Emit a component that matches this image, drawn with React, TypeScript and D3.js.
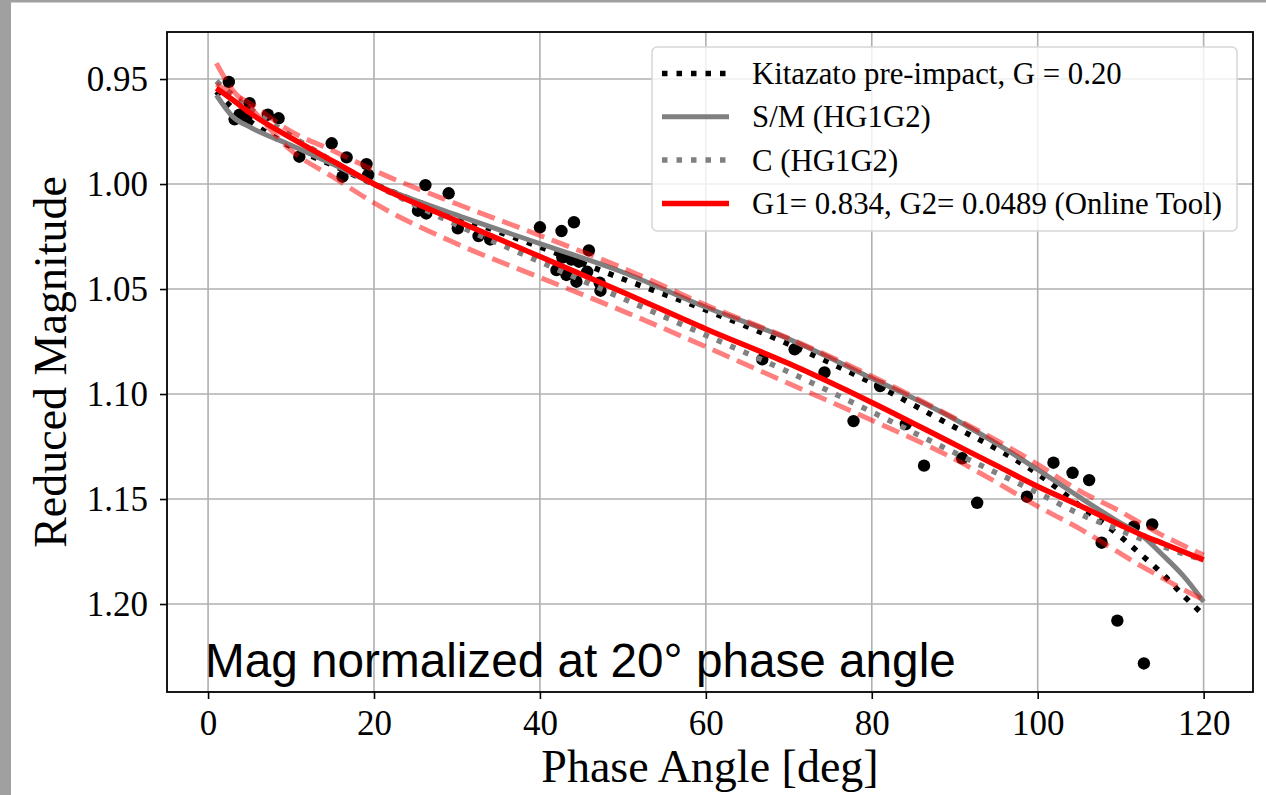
import React, { useEffect, useRef } from "react";
import * as d3 from "d3";

// ---- axis ticks ----
const xTicks = [0, 20, 40, 60, 80, 100, 120];
const yTicks = [0.95, 1.0, 1.05, 1.1, 1.15, 1.2];

// ---- observed points ----
const obsPhase = [
  2.5, 5.0, 3.8, 3.2, 4.6, 7.2, 8.5, 11.0, 14.9, 16.7, 16.2, 19.1, 19.3,
  26.2, 29.0, 25.3, 26.3, 30.1, 32.6, 34.0,
  40.0, 42.6, 44.1, 45.9, 42.0, 42.7, 43.2, 44.4, 43.8, 44.7, 45.7, 47.2, 47.3,
  66.8, 70.7, 74.3, 81.0, 77.8, 84.1, 86.3, 90.9, 92.7,
  98.7, 101.9, 104.2, 106.2, 107.7, 111.6, 113.8, 109.6, 112.8,
];
const obsMag = [
  0.9514, 0.9615, 0.967, 0.9692, 0.9687, 0.967, 0.9687, 0.987, 0.9806, 0.9873, 0.9965, 0.9905, 0.9957,
  1.0005, 1.0044, 1.0127, 1.014, 1.0211, 1.0248, 1.0264,
  1.0206, 1.0224, 1.0182, 1.0316, 1.041, 1.035, 1.0433, 1.0465, 1.036, 1.037, 1.0418, 1.047, 1.0508,
  1.0835, 1.0787, 1.0897, 1.0962, 1.1129, 1.1143, 1.1341, 1.1306, 1.1518,
  1.1489, 1.1327, 1.1375, 1.141, 1.1708, 1.1632, 1.1621, 1.2079, 1.2283,
];

// ---- model curves (sampled on a common phase grid) ----
const curvePhase = [1, 3, 5, 10, 15, 20, 30, 40, 50, 60, 70, 80, 90, 95, 100, 105, 110, 112.5, 115, 117.5, 120];
const kitazatoMag = [0.956, 0.964, 0.97, 0.9822, 0.991, 1.0, 1.0155, 1.03, 1.0452, 1.06, 1.0763, 1.0947, 1.1158, 1.126, 1.138, 1.153, 1.168, 1.1766, 1.1855, 1.1957, 1.2053];
const smMag = [0.9576, 0.968, 0.9728, 0.9815, 0.9905, 1.0, 1.0148, 1.0284, 1.042, 1.0587, 1.0738, 1.0925, 1.112, 1.1235, 1.136, 1.149, 1.1615, 1.1673, 1.1764, 1.1864, 1.1989];
const cMag = [0.951, 0.958, 0.964, 0.977, 0.989, 1.0, 1.0195, 1.037, 1.0545, 1.072, 1.0895, 1.1085, 1.128, 1.1375, 1.147, 1.157, 1.165, 1.169, 1.1725, 1.176, 1.179];
const fitMag = [0.9544, 0.96, 0.966, 0.978, 0.989, 1.0, 1.0176, 1.0345, 1.0515, 1.069, 1.0855, 1.104, 1.124, 1.134, 1.144, 1.153, 1.1625, 1.167, 1.171, 1.175, 1.179];
const fitUpperMag = [0.9525, 0.957, 0.9615, 0.975, 0.984, 0.9935, 1.0095, 1.0245, 1.04, 1.0576, 1.0735, 1.0915, 1.1115, 1.122, 1.1335, 1.146, 1.156, 1.1617, 1.1672, 1.172, 1.1767];
const fitLowerMag = [0.9425, 0.9555, 0.9632, 0.984, 0.9965, 1.009, 1.0285, 1.0445, 1.0605, 1.0775, 1.095, 1.1125, 1.131, 1.142, 1.1535, 1.164, 1.176, 1.182, 1.1875, 1.193, 1.198];

const legendLabels = [
  "Kitazato pre-impact, G = 0.20",
  "S/M (HG1G2)",
  "C (HG1G2)",
  "G1= 0.834, G2= 0.0489 (Online Tool)",
];

const W = 1266;
const H = 795;
const L = 167, R = 1253, T = 32, B = 692;
const SERIF = "'Liberation Serif', 'Times New Roman', serif";
const SANS = "'Liberation Sans', Arial, sans-serif";

export default function App() {
  const ref = useRef<SVGSVGElement | null>(null);

  useEffect(() => {
    const svg = d3.select(ref.current);
    svg.selectAll("*").remove();

    const x = d3.scaleLinear().domain([-4.95, 125.95]).range([L, R]);
    const y = d3.scaleLinear().domain([0.9276, 1.2419]).range([T, B]);

    // page background
    svg.append("rect").attr("x", 0).attr("y", 0).attr("width", W).attr("height", H).attr("fill", "#ffffff");
    svg.append("rect").attr("x", 0).attr("y", 0).attr("width", W).attr("height", 2.5).attr("fill", "#a0a0a0");
    svg.append("rect").attr("x", 0).attr("y", 0).attr("width", 11).attr("height", H).attr("fill", "#a0a0a0");

    const defs = svg.append("defs");
    defs.append("clipPath").attr("id", "plotclip")
      .append("rect").attr("x", L).attr("y", T).attr("width", R - L).attr("height", B - T);

    // grid
    const grid = svg.append("g");
    xTicks.forEach((t) => {
      grid.append("line").attr("x1", x(t)).attr("x2", x(t)).attr("y1", T).attr("y2", B)
        .attr("stroke", "#b0b0b0").attr("stroke-width", 1.6);
    });
    yTicks.forEach((t) => {
      grid.append("line").attr("x1", L).attr("x2", R).attr("y1", y(t)).attr("y2", y(t))
        .attr("stroke", "#b0b0b0").attr("stroke-width", 1.6);
    });

    const plot = svg.append("g").attr("clip-path", "url(#plotclip)");

    // points
    plot.append("g").selectAll("circle")
      .data(obsPhase.map((p, i) => [p, obsMag[i]]))
      .join("circle")
      .attr("cx", (d) => x(d[0]))
      .attr("cy", (d) => y(d[1]))
      .attr("r", 6.2)
      .attr("fill", "#000000");

    const line = (vals: number[]) =>
      d3.line<number>()
        .x((_, i) => x(curvePhase[i]))
        .y((d) => y(d))
        .curve(d3.curveMonotoneX)(vals) as string;

    const drawCurve = (vals: number[], color: string, width: number, dash: string | null, opacity = 1) => {
      const p = plot.append("path").attr("d", line(vals)).attr("fill", "none")
        .attr("stroke", color).attr("stroke-width", width).attr("stroke-opacity", opacity)
        .attr("stroke-linecap", "butt").attr("stroke-linejoin", "round");
      if (dash) p.attr("stroke-dasharray", dash);
    };

    drawCurve(kitazatoMag, "#000000", 5.5, "5.5 9");
    drawCurve(smMag, "#808080", 5, null);
    drawCurve(cMag, "#808080", 5.5, "5.5 9");
    drawCurve(fitMag, "#ff0000", 5.5, null);
    drawCurve(fitUpperMag, "#ff0000", 5, "18.5 8", 0.5);
    drawCurve(fitLowerMag, "#ff0000", 5, "18.5 8", 0.5);

    // spines
    svg.append("rect").attr("x", L).attr("y", T).attr("width", R - L).attr("height", B - T)
      .attr("fill", "none").attr("stroke", "#000000").attr("stroke-width", 1.8);

    // x axis
    const xAxis = svg.append("g").attr("transform", `translate(0,${B})`)
      .call(d3.axisBottom(x).tickValues(xTicks).tickSize(7).tickPadding(10).tickFormat(d3.format("d")));
    xAxis.select(".domain").remove();
    xAxis.selectAll(".tick line").attr("stroke", "#000").attr("stroke-width", 1.6);
    xAxis.selectAll(".tick text").attr("font-family", SERIF).attr("font-size", 35).attr("fill", "#000")
      .attr("dy", "0").attr("y", 43);

    // y axis
    const yAxis = svg.append("g").attr("transform", `translate(${L},0)`)
      .call(d3.axisLeft(y).tickValues(yTicks).tickSize(7).tickPadding(12).tickFormat(d3.format(".2f")));
    yAxis.select(".domain").remove();
    yAxis.selectAll(".tick line").attr("stroke", "#000").attr("stroke-width", 1.6);
    yAxis.selectAll(".tick text").attr("font-family", SERIF).attr("font-size", 35).attr("fill", "#000")
      .attr("dy", "0.34em").attr("x", -19);

    // axis labels
    svg.append("text").attr("x", (L + R) / 2).attr("y", 782).attr("text-anchor", "middle")
      .attr("font-family", SERIF).attr("font-size", 46).attr("fill", "#000").text("Phase Angle [deg]");
    svg.append("text").attr("transform", `translate(66,${(T + B) / 2}) rotate(-90)`).attr("text-anchor", "middle")
      .attr("font-family", SERIF).attr("font-size", 46).attr("fill", "#000").text("Reduced Magnitude");

    // annotation
    svg.append("text").attr("x", 205).attr("y", 677).attr("font-family", SANS).attr("font-size", 47.7)
      .attr("fill", "#000").text("Mag normalized at 20\u00B0 phase angle");

    // legend
    const lg = svg.append("g");
    lg.append("rect").attr("x", 652).attr("y", 47).attr("width", 585).attr("height", 184).attr("rx", 5)
      .attr("fill", "#ffffff").attr("fill-opacity", 0.8).attr("stroke", "#d6d6d6").attr("stroke-width", 1.5);
    const styles = [
      { c: "#000000", w: 5.5, d: "5.5 9" },
      { c: "#808080", w: 5, d: null },
      { c: "#808080", w: 5.5, d: "5.5 9" },
      { c: "#ff0000", w: 5.5, d: null },
    ];
    legendLabels.forEach((lab, i) => {
      const cy = 73.5 + i * 43.3;
      const s = styles[i];
      const ln = lg.append("line").attr("x1", 662).attr("x2", 729).attr("y1", cy).attr("y2", cy)
        .attr("stroke", s.c).attr("stroke-width", s.w);
      if (s.d) ln.attr("stroke-dasharray", s.d);
      lg.append("text").attr("x", 752).attr("y", cy).attr("dy", "0.34em")
        .attr("font-family", SERIF).attr("font-size", 30.8).attr("fill", "#000").text(lab);
    });
  }, []);

  return (
    <svg
      ref={ref}
      width={W}
      height={H}
      style={{ position: "absolute", left: 0, top: 0, display: "block" }}
    />
  );
}
